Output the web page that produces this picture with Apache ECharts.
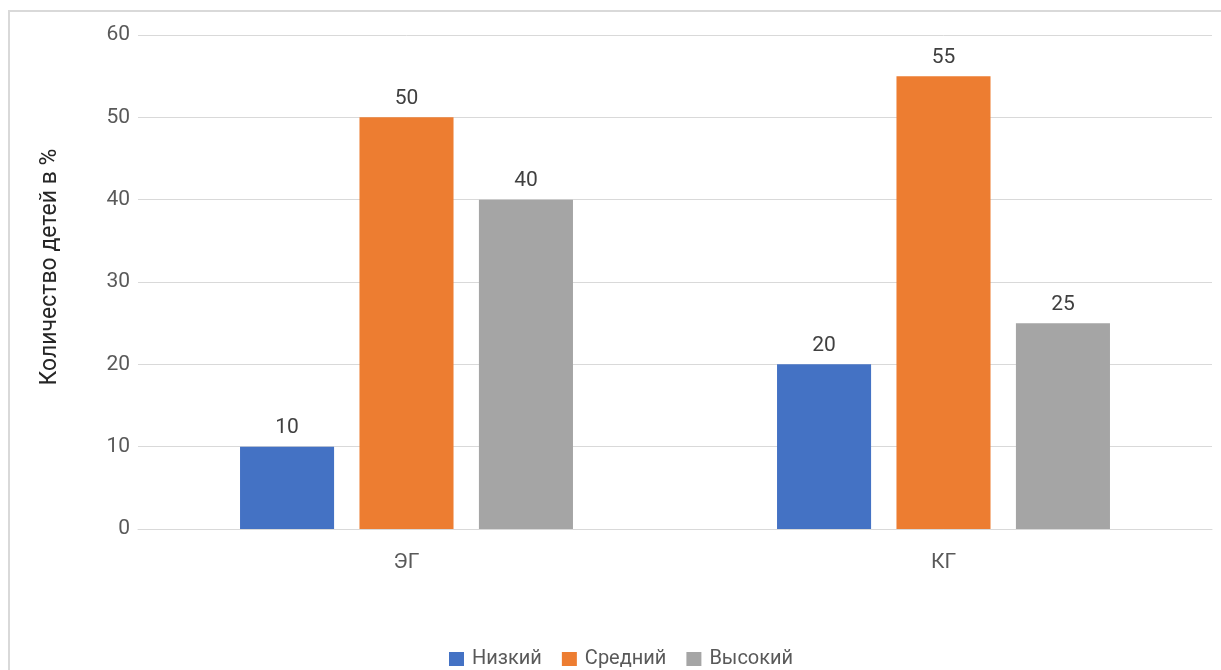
<!DOCTYPE html>
<html>
<head>
<meta charset="utf-8">
<script src="https://cdn.jsdelivr.net/npm/echarts@6/dist/echarts.min.js"></script>
<style>
  html, body { margin: 0; padding: 0; background: #fff; }
  #chart { width: 1221px; height: 670px; }
</style>
</head>
<body>
<div id="chart"></div>
<script>
// Groups and distribution of children by level (%)
const categories = ['ЭГ', 'КГ'];
const lowValues = [10, 20];
const midValues = [50, 55];
const highValues = [40, 25];
const seriesNames = ['Низкий', 'Средний', 'Высокий'];
const seriesColors = ['#4472C4', '#ED7D31', '#A5A5A5'];
const axisTitle = 'Количество детей в %';

const FONT = 'Roboto, "Open Sans", sans-serif';
const TEXT = '#595959';
const FS = 21;

const chart = echarts.init(document.getElementById('chart'));

function barSeries(name, data, color) {
  return {
    name: name,
    type: 'bar',
    data: data,
    barGap: '27%',
    barCategoryGap: '38%',
    itemStyle: { color: color },
    label: {
      show: true,
      position: 'top',
      distance: 8,
      color: '#404040',
      fontFamily: FONT,
      fontSize: FS
    },
    emphasis: { disabled: true }
  };
}

chart.setOption({
  animation: false,
  backgroundColor: '#fff',
  graphic: [
    {
      type: 'rect',
      shape: { x: 9, y: 11, width: 1240, height: 700 },
      style: { fill: 'none', stroke: '#d9d9d9', lineWidth: 2 },
      silent: true
    },
    {
      type: 'text',
      x: 50,
      y: 267,
      rotation: Math.PI / 2,
      style: {
        text: axisTitle,
        fill: '#262626',
        font: '23px ' + FONT,
        align: 'center',
        verticalAlign: 'middle'
      }
    }
  ],
  grid: { left: 138, right: 9, top: 35, bottom: 141, containLabel: false },
  legend: {
    bottom: 1,
    left: 449,
    padding: 0,
    itemWidth: 15,
    itemHeight: 14,
    itemGap: 20,
    icon: 'rect',
    textStyle: { color: TEXT, fontFamily: FONT, fontSize: 20, padding: [0, 0, 0, 3] },
    data: seriesNames
  },
  xAxis: {
    type: 'category',
    data: categories,
    axisLine: { show: true, lineStyle: { color: '#d9d9d9', width: 1 } },
    axisTick: { show: false },
    axisLabel: { color: TEXT, fontFamily: FONT, fontSize: FS, margin: 23 }
  },
  yAxis: {
    type: 'value',
    min: 0,
    max: 60,
    interval: 10,
    axisLine: { show: false },
    axisTick: { show: false },
    splitLine: { lineStyle: { color: '#d9d9d9', width: 1 } },
    axisLabel: { color: TEXT, fontFamily: FONT, fontSize: FS, margin: 8 }
  },
  series: [
    barSeries(seriesNames[0], lowValues, seriesColors[0]),
    barSeries(seriesNames[1], midValues, seriesColors[1]),
    barSeries(seriesNames[2], highValues, seriesColors[2])
  ]
});
</script>
</body>
</html>
